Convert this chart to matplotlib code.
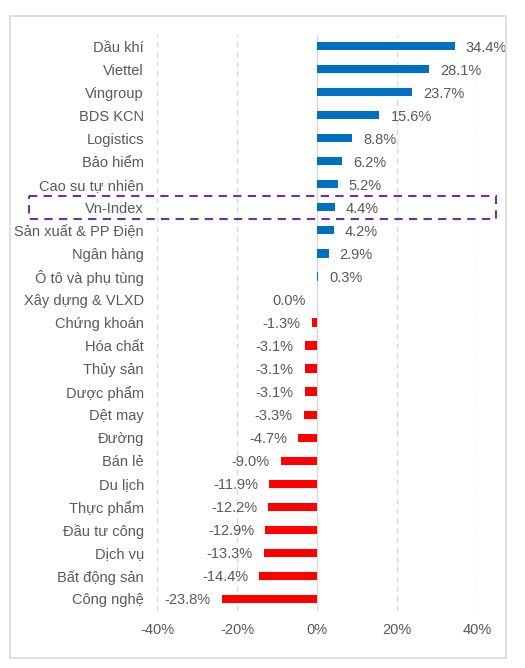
import matplotlib
matplotlib.use("Agg")
import matplotlib.pyplot as plt
from matplotlib.patches import Rectangle
import numpy as np

categories = ["Dầu khí", "Viettel", "Vingroup", "BDS KCN", "Logistics", "Bảo hiểm",
              "Cao su tự nhiên", "Vn-Index", "Sản xuất & PP Điện", "Ngân hàng",
              "Ô tô và phụ tùng", "Xây dựng & VLXD", "Chứng khoán", "Hóa chất",
              "Thủy sản", "Dược phẩm", "Dệt may", "Đường", "Bán lẻ", "Du lịch",
              "Thực phẩm", "Đầu tư công", "Dịch vụ", "Bất động sản", "Công nghệ"]
values = [34.4, 28.1, 23.7, 15.6, 8.8, 6.2, 5.2, 4.4, 4.2, 2.9, 0.3, 0.0, -1.3,
          -3.1, -3.1, -3.1, -3.3, -4.7, -9.0, -11.9, -12.2, -12.9, -13.3, -14.4, -23.8]
xticks = [-40, -20, 0, 20, 40]
xtick_labels = ["-40%", "-20%", "0%", "20%", "40%"]
highlight = "Vn-Index"

plt.rcParams['font.family'] = ['Liberation Sans', 'DejaVu Sans']
TXT = "#595959"

fig = plt.figure(figsize=(5.25, 6.68), dpi=100)
W, H = 525, 668
ax = fig.add_axes([157 / W, 1 - 610.5 / H, 320 / W, 576 / H])

y = np.arange(len(categories))
colors = ["#0070C0" if v >= 0 else "#FF0000" for v in values]
ax.barh(y, values, height=0.36, color=colors, zorder=3)

ax.set_xlim(-40, 40)
ax.set_ylim(len(categories) - 0.5, -0.5)
ax.set_yticks(y)
ax.set_yticklabels(categories, color=TXT, fontsize=10.5, va="center_baseline")
ax.set_xticks(xticks)
ax.set_xticklabels(xtick_labels, color=TXT, fontsize=10.5)
ax.tick_params(axis='y', length=0, pad=9.5)
ax.tick_params(axis='x', length=0, pad=9)
for s in ax.spines.values():
    s.set_visible(False)

for xv in xticks:
    if xv == 0:
        ax.axvline(0, color="#D9D9D9", lw=1.0, zorder=1)
    else:
        ax.axvline(xv, color="#D9D9D9", lw=1.0, ls=(0, (4, 3)), zorder=1)

for yi, v in zip(y, values):
    if v > 0:
        ax.annotate(f"{v:.1f}%", (v, yi), xytext=(8, 0), textcoords="offset points",
                    ha="left", va="center_baseline", color=TXT, fontsize=10.5)
    else:
        ax.annotate(f"{v:.1f}%", (v, yi), xytext=(-8, 0), textcoords="offset points",
                    ha="right", va="center_baseline", color=TXT, fontsize=10.5)

# highlight box around Vn-Index row
hi = categories.index(highlight)
x0 = (29 - 317) / 4.0
x1 = (496 - 317) / 4.0
ax.add_patch(Rectangle((x0, hi - 0.5), x1 - x0, 1.0, fill=False,
                       edgecolor="#7030A0", lw=1.5, ls=(0, (4, 3)),
                       clip_on=False, zorder=4))

# outer frame
fig.add_artist(Rectangle((9.7 / W, 1 - 658 / H), (506 - 9.7) / W, (658 - 16) / H,
                         transform=fig.transFigure, fill=False,
                         edgecolor="#D9D9D9", lw=1.2))

fig.savefig("out.png", dpi=100)
